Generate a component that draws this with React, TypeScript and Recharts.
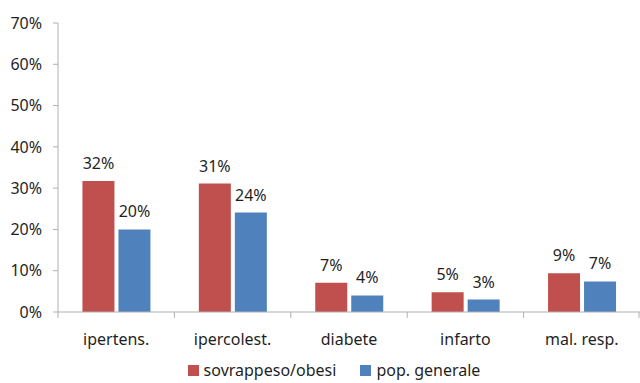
import { BarChart, Bar, XAxis, YAxis, Legend, LabelList } from 'recharts';

const categories = ['ipertens.', 'ipercolest.', 'diabete', 'infarto', 'mal. resp.'];
const sovrappeso = [31.7, 31.1, 7.1, 4.8, 9.4];
const popGenerale = [20.0, 24.1, 4.0, 3.0, 7.4];
const yTicks = [0, 10, 20, 30, 40, 50, 60, 70];
const seriesNames = ['sovrappeso/obesi', 'pop. generale'];
const seriesColors = ['#C0504D', '#4F81BD'];

const data = categories.map((name, i) => ({ name, a: sovrappeso[i], b: popGenerale[i] }));

const FONT = '"Noto Sans", sans-serif';
const TEXT = '#1f1f1f';
const AXIS = '#b0b0b0';
const W = 640;
const H = 383;
const LEFT = 58;
const BAND = (W - LEFT) / categories.length;

// category label plus tick marks on the band edges, as in the original
function XTick(props: any) {
  const { x, y, payload, index } = props;
  const left = x - BAND / 2;
  return (
    <g>
      <line x1={left} y1={y - 8} x2={left} y2={y - 2} stroke={AXIS} />
      {index === categories.length - 1 && (
        <line x1={x + BAND / 2 - 1} y1={y - 8} x2={x + BAND / 2 - 1} y2={y - 2} stroke={AXIS} />
      )}
      <text x={x} y={y + 25} textAnchor="middle" fill={TEXT} fontSize={16} fontFamily={FONT}>
        {payload.value}
      </text>
    </g>
  );
}

function LegendBox() {
  return (
    <div style={{ display: 'flex', justifyContent: 'center', gap: 24, fontSize: 16, fontFamily: FONT, color: TEXT, lineHeight: '18px' }}>
      {seriesNames.map((n, i) => (
        <span key={n} style={{ display: 'flex', alignItems: 'center' }}>
          <span style={{ display: 'inline-block', width: 11, height: 11, background: seriesColors[i], marginRight: 5 }} />
          {n}
        </span>
      ))}
    </div>
  );
}

export default function App() {
  const label = {
    position: 'top' as const,
    offset: 12,
    formatter: (v: any) => `${Math.round(v)}%`,
    style: { fill: TEXT, fontSize: 16, fontFamily: FONT },
  };
  return (
    <div style={{ position: 'absolute', left: 0, top: 0, width: W, height: H, background: '#fff' }}>
      <BarChart
        width={W}
        height={H}
        data={data}
        margin={{ top: 23, right: 0, bottom: 0, left: 0 }}
        barCategoryGap="21%"
        barGap={4}
      >
        <XAxis dataKey="name" stroke={AXIS} tickLine={false} height={53} tick={<XTick />} interval={0} />
        <YAxis
          width={LEFT}
          domain={[0, 70]}
          ticks={yTicks}
          stroke={AXIS}
          tickSize={5}
          tickMargin={11}
          tickFormatter={(v: number) => `${v}%`}
          tick={{ fill: TEXT, fontSize: 16, fontFamily: FONT }}
        />
        <Legend verticalAlign="bottom" height={18} content={<LegendBox />} wrapperStyle={{ left: 14, bottom: 4 }} />
        <Bar dataKey="a" name={seriesNames[0]} fill={seriesColors[0]} isAnimationActive={false}>
          <LabelList dataKey="a" {...label} />
        </Bar>
        <Bar dataKey="b" name={seriesNames[1]} fill={seriesColors[1]} isAnimationActive={false}>
          <LabelList dataKey="b" {...label} />
        </Bar>
      </BarChart>
    </div>
  );
}
